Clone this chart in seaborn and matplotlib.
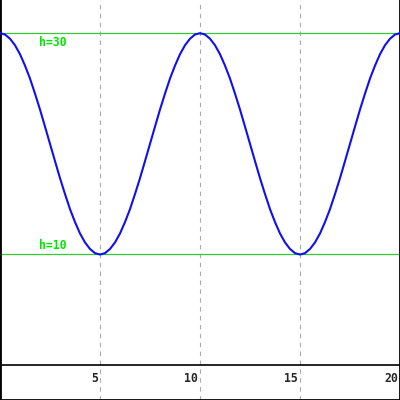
import matplotlib
matplotlib.use("Agg")
import matplotlib.pyplot as plt
import matplotlib.transforms as mtransforms
import seaborn as sns
import pandas as pd

# curve h(t), every 0.25
t = [i * 0.25 for i in range(81)]
h = [30, 29.88, 29.5, 28.91, 28.1, 27.07, 25.9, 24.54, 23.1, 21.56,
     20, 18.44, 16.9, 15.46, 14.1, 12.93, 11.9, 11.09, 10.5, 10.12,
     10, 10.12, 10.5, 11.09, 11.9, 12.93, 14.1, 15.46, 16.9, 18.44,
     20, 21.56, 23.1, 24.54, 25.9, 27.07, 28.1, 28.91, 29.5, 29.88,
     30, 29.88, 29.5, 28.91, 28.1, 27.07, 25.9, 24.54, 23.1, 21.56,
     20, 18.44, 16.9, 15.46, 14.1, 12.93, 11.9, 11.09, 10.5, 10.12,
     10, 10.12, 10.5, 11.09, 11.9, 12.93, 14.1, 15.46, 16.9, 18.44,
     20, 21.56, 23.1, 24.54, 25.9, 27.07, 28.1, 28.91, 29.5, 29.88,
     30]

ref_levels = [30, 10]
ref_labels = ['h=30', 'h=10']
xticks = [5, 10, 15, 20]
xtick_labels = ['5', '10', '15', '20']

df = pd.DataFrame({'t': t, 'h': h})

sns.set_style("white")
fig = plt.figure(figsize=(4, 4), dpi=100)
ax = fig.add_axes([0, 0, 1, 1])

# vertical dashed grid
for xv in xticks[:-1]:
    ax.axvline(xv, color='#aaaaaa', lw=0.8, ls=(0, (4, 4)), zorder=1)

# reference levels
for lvl, lab in zip(ref_levels, ref_labels):
    ax.axhline(lvl, color='#33cc33', lw=0.9, zorder=2)
    va = 'top' if lvl == max(ref_levels) else 'bottom'
    off = -0.25 if va == 'top' else 0.2
    ax.text(1.95, lvl + off, lab, color='#00e600', fontsize=8.3, fontweight='bold',
            family='DejaVu Sans Mono', ha='left', va=va, zorder=4)

sns.lineplot(data=df, x='t', y='h', ax=ax, color='#1010f0', lw=1.5, zorder=3)

ax.axhline(0, color='black', lw=1.2, zorder=4)

ax.set_xlim(0, 20)
ax.set_ylim(-3.15, 33)
ax.set_xlabel('')
ax.set_ylabel('')
ax.set_yticks([])
ax.set_xticks(xticks)
ax.set_xticklabels(xtick_labels, family='DejaVu Sans Mono', fontweight='bold',
                   fontsize=8.3, ha='right')
ax.tick_params(axis='x', length=0, pad=-20)
shift = mtransforms.ScaledTranslation(-2 / 100, 0, fig.dpi_scale_trans)
for lab in ax.get_xticklabels():
    lab.set_transform(lab.get_transform() + shift)

ax.spines['top'].set_visible(False)
for s in ['left', 'right', 'bottom']:
    ax.spines[s].set_color('black')
    ax.spines[s].set_linewidth(2)

fig.savefig('out.png', dpi=100)
